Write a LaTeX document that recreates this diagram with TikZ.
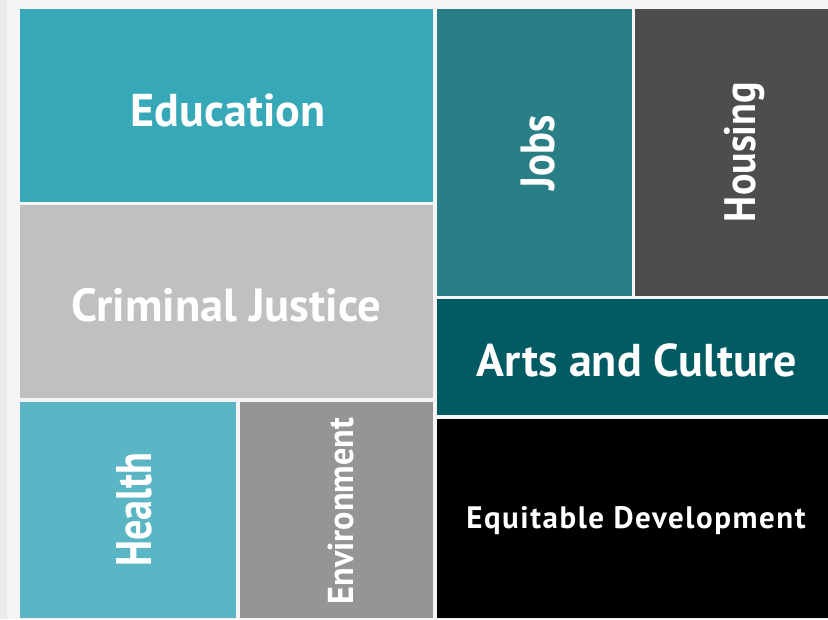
\documentclass[tikz,border=0pt]{standalone}
\usepackage{fontspec}
\usepackage{graphicx}
\setmainfont{PT Sans}
\newfontfamily\spacedfont[LetterSpace=5]{PT Sans}
\usetikzlibrary{positioning}

\begin{document}
\begin{tikzpicture}[
    x=1pt, y=-1pt,
    tile/.style={inner sep=0pt, outer sep=0pt, text=white, font=\fontsize{46}{46}\selectfont\bfseries},
]

% Colors
\definecolor{educolor}{HTML}{36A8B7}
\definecolor{crimcolor}{HTML}{C0C0C0}
\definecolor{healthcolor}{HTML}{5AB6C4}
\definecolor{envcolor}{HTML}{959595}
\definecolor{jobscolor}{HTML}{2A7F87}
\definecolor{housingcolor}{HTML}{4D4D4D}
\definecolor{artscolor}{HTML}{025A62}
\definecolor{equitcolor}{HTML}{000000}
\definecolor{bgcolor}{HTML}{F5F5F5}

% Background and left shadow
\fill[bgcolor] (0,0) rectangle (828,619);
\fill[black!8] (0,0) rectangle (7,619);
\useasboundingbox (0,0) rectangle (828,619);

% Tiles
\fill[educolor] (20,9) rectangle (433,202);
\fill[crimcolor] (20,205) rectangle (433,398);
\fill[healthcolor] (20,402) rectangle (236,618);
\fill[envcolor] (240,402) rectangle (433,618);
\fill[jobscolor] (437,9) rectangle (632,296);
\fill[housingcolor] (635,9) rectangle (828,296);
\fill[artscolor] (437,299) rectangle (828,415);
\fill[equitcolor] (437,419) rectangle (828,618);

% Labels
\node[tile] (edu) at (228,110) {Education};
\node[tile, font=\fontsize{46.5}{46}\selectfont\bfseries] (crim) at (226,305) {Criminal Justice};
\node[tile, rotate=90, font=\fontsize{50}{50}\selectfont\bfseries] (health) at (134,510) {\scalebox{0.8}[1]{Health}};
\node[tile, rotate=90, font=\fontsize{36}{36}\selectfont\bfseries] (env) at (341,511) {\scalebox{0.95}[1]{Environment}};
\node[tile, rotate=90, font=\fontsize{48}{48}\selectfont\bfseries] (jobs) at (538,153) {\scalebox{0.85}[1]{Jobs}};
\node[tile, rotate=90, font=\fontsize{44}{44}\selectfont\bfseries] (housing) at (745,152) {\scalebox{0.91}[1]{Housing}};
\node[tile] (arts) at (637,360) {Arts and Culture};
\node[tile, font=\fontsize{31}{31}\spacedfont\bfseries] (equit) at (636,521) {Equitable Development};

\end{tikzpicture}
\end{document}
